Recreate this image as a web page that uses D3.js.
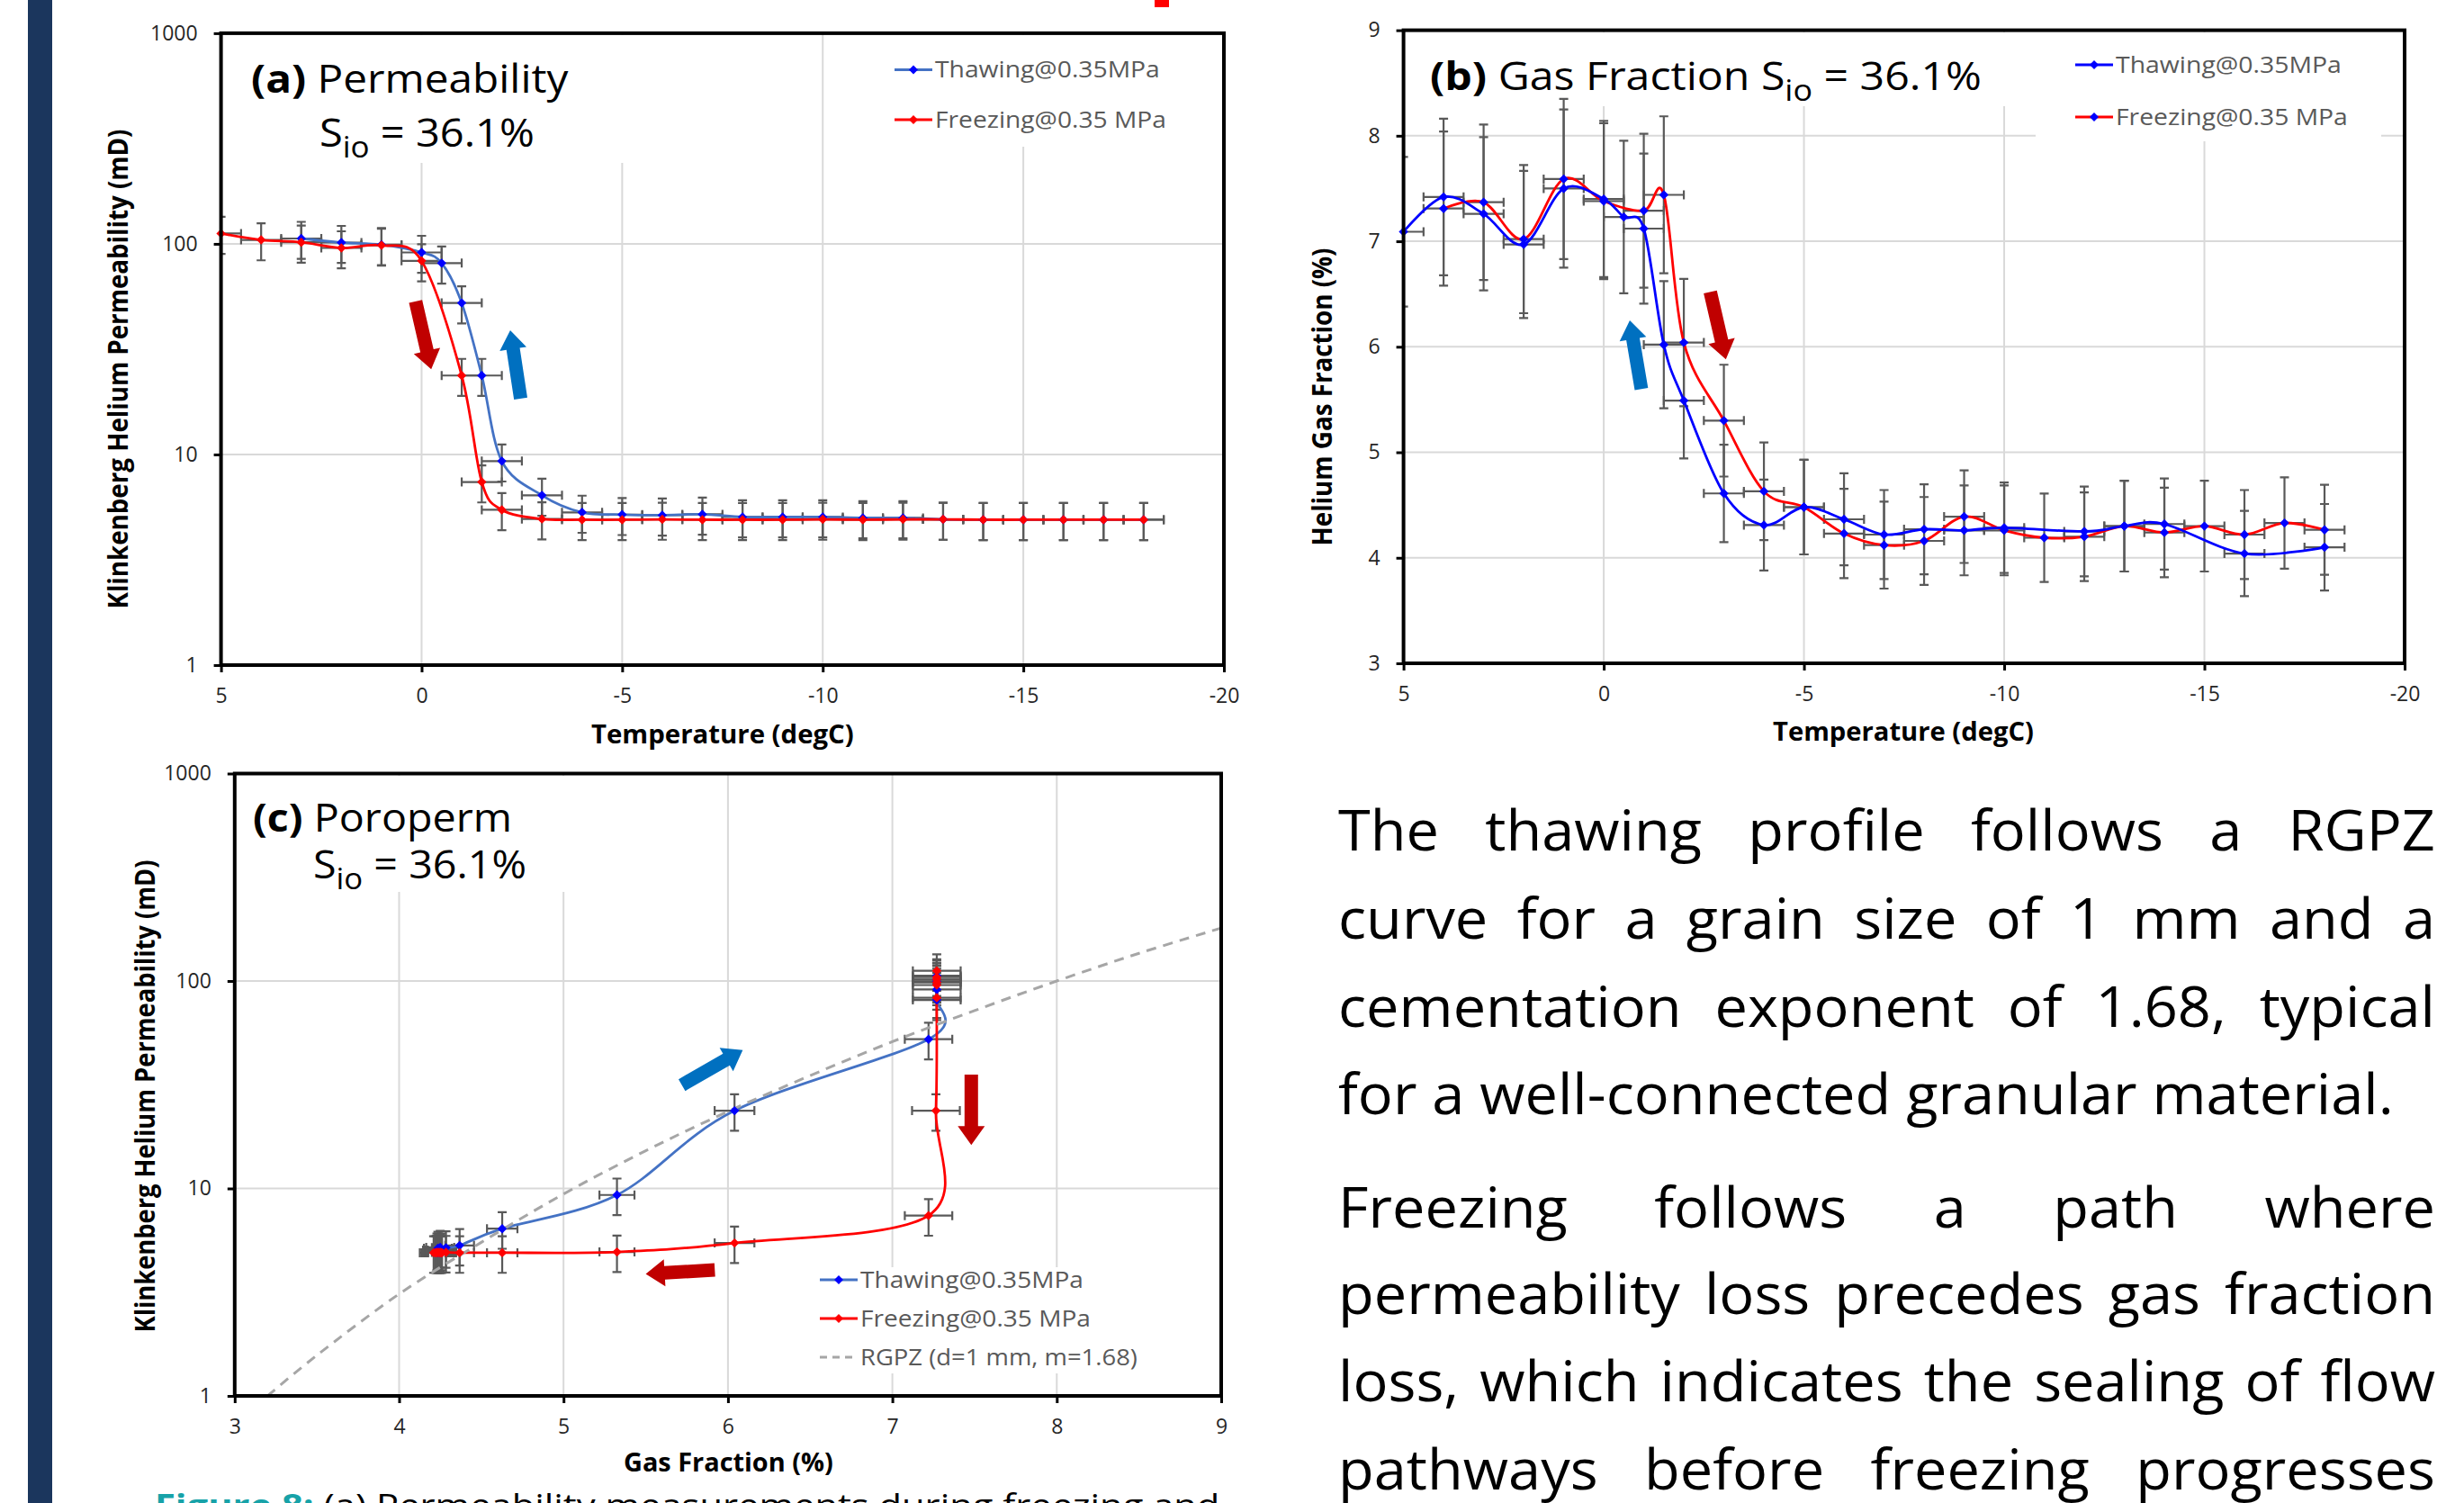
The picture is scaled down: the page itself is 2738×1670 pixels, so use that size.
<!DOCTYPE html>
<html><head><meta charset="utf-8">
<script src="https://cdn.jsdelivr.net/npm/d3@7"></script>
<style>body{margin:0;background:#fff;overflow:hidden}svg{display:block}</style>
</head><body>
<svg id="chart" width="2738" height="1670"></svg>
<script>
// ---------------- DATA ----------------
const tempTicks = [5, 0, -5, -10, -15, -20];
const logTicks = [1, 10, 100, 1000];
const gasTicks = [3, 4, 5, 6, 7, 8, 9];

// Panel (a): permeability vs temperature
const thawTempA = [3, 2, 1, 0, -0.5, -1, -1.5, -2, -3, -4, -5, -6, -7, -8, -9, -10, -11, -12, -13, -14, -15, -16, -17, -18];
const thawPermA = [106, 101.4, 99, 91, 81, 52.4, 23.7, 9.3, 6.4, 5.31, 5.18, 5.15, 5.2, 5.05, 5.05, 5.05, 5.0, 5.0, 4.92, 4.9, 4.9, 4.9, 4.9, 4.9];
const freezeTempA = [5, 4, 3, 2, 1, 0, -1, -1.5, -2, -3, -4, -5, -6, -7, -8, -9, -10, -11, -12, -13, -14, -15, -16, -17, -18];
const freezePermA = [112, 104.4, 101.7, 95.6, 98.4, 83, 23.7, 7.4, 5.46, 4.94, 4.9, 4.9, 4.92, 4.9, 4.9, 4.9, 4.92, 4.9, 4.92, 4.92, 4.9, 4.9, 4.9, 4.9, 4.9];

// Panel (b): gas fraction vs temperature
const thawTempB = [5, 4, 3, 2, 1, 0, -0.5, -1, -1.5, -2, -3, -4, -5, -6, -7, -8, -9, -10, -12, -13, -14, -16, -18];
const thawGasB = [7.09, 7.42, 7.26, 6.97, 7.50, 7.40, 7.23, 7.12, 6.02, 5.49, 4.61, 4.31, 4.48, 4.365, 4.22, 4.27, 4.26, 4.285, 4.25, 4.30, 4.32, 4.04, 4.10];
const freezeTempB = [4, 3, 2, 1, 0, -1, -1.5, -2, -3, -4, -5, -6, -7, -8, -9, -10, -11, -12, -13, -14, -15, -16, -17, -18];
const freezeGasB = [7.31, 7.37, 7.02, 7.59, 7.38, 7.29, 7.44, 6.04, 5.30, 4.63, 4.48, 4.23, 4.12, 4.16, 4.39, 4.26, 4.19, 4.20, 4.30, 4.24, 4.30, 4.22, 4.33, 4.265];

// Panel (c): poroperm (gas fraction, aligned with panel a points)
const thawGasC = [7.27, 7.27, 7.27, 7.27, 7.27, 7.22, 6.04, 5.325, 4.627, 4.368, 4.285, 4.236, 4.25, 4.24, 4.26, 4.23, 4.25, 4.24, 4.26, 4.25, 4.24, 4.23, 4.25, 4.24];
const freezeGasC = [7.27, 7.27, 7.27, 7.27, 7.27, 7.27, 7.265, 7.22, 6.04, 5.325, 4.627, 4.368, 4.285, 4.227, 4.25, 4.22, 4.24, 4.26, 4.23, 4.25, 4.21, 4.24, 4.26, 4.23, 4.25];
const rgpzGas = [3.2, 3.5, 4, 4.5, 5, 5.5, 6, 6.5, 7, 7.5, 8, 8.5, 9];
const rgpzPerm = [1.0, 1.57, 3.1, 5.5, 9.4, 15.2, 23.5, 35, 51, 72, 100, 136, 180];

// error bar sizes
const permRelErr = 0.2, tempErr = 0.5, gasRelErrB = 0.1, gasRelErrC = 0.02;

// annotation arrows (data coordinates)
const arrowsA = [{from: [0.15, 53.3], to: [-0.24, 25.4], color: "#C00000"}, {from: [-2.47, 18.4], to: [-2.21, 38.9], color: "#0070C0"}];
const arrowsB = [{from: [-2.66, 6.52], to: [-3.05, 5.88], color: "#C00000"}, {from: [-0.94, 5.6], to: [-0.65, 6.25], color: "#0070C0"}];
const arrowsC = [{from: [5.72, 31.5], to: [6.09, 46.5], color: "#0070C0"}, {from: [7.48, 35.4], to: [7.48, 16.2], color: "#C00000"}, {from: [5.92, 4.05], to: [5.5, 3.87], color: "#C00000"}];

const legendLabels = ["Thawing@0.35MPa", "Freezing@0.35 MPa", "RGPZ (d=1 mm, m=1.68)"];

const para1 = ["The thawing profile follows a RGPZ", "curve for a grain size of 1 mm and a", "cementation exponent of 1.68, typical", "for a well-connected granular material."];
const para2 = ["Freezing follows a path where", "permeability loss precedes gas fraction", "loss, which indicates the sealing of flow", "pathways before freezing progresses"];

// ---------------- HELPERS ----------------
const FONT = "'Open Sans','Noto Sans',sans-serif";
const svg = d3.select("#chart").attr("font-family", FONT);
svg.append("rect").attr("width", 2738).attr("height", 1670).attr("fill", "#fff");

function zip(a, b) { return a.map((v, i) => [v, b[i]]); }
function fitWidth(sel, x0, target) {
  const bb = sel.node().getBBox();
  const sx = target / bb.width;
  sel.attr("transform", `translate(${x0},0) scale(${sx},1) translate(${-x0},0)`);
}
const diamond = r => `M0,${-r}L${r},0L0,${r}L${-r},0Z`;
const plainFmt = d => String(d);

function makePanel(id, xs, ys, xGrid, yGrid) {
  const g = svg.append("g");
  const [x0, x1] = xs.range().slice().sort((a, b) => a - b);
  const [y0, y1] = ys.range().slice().sort((a, b) => a - b);
  g.append("clipPath").attr("id", id).append("rect").attr("x", x0).attr("y", y0).attr("width", x1 - x0).attr("height", y1 - y0);
  const grid = g.append("g").attr("stroke", "#D9D9D9").attr("stroke-width", 2);
  grid.selectAll(".gx").data(xGrid).join("line").attr("x1", d => xs(d)).attr("x2", d => xs(d)).attr("y1", y0).attr("y2", y1);
  grid.selectAll(".gy").data(yGrid).join("line").attr("y1", d => ys(d)).attr("y2", d => ys(d)).attr("x1", x0).attr("x2", x1);
  return {g, xs, ys, x0, x1, y0, y1, clip: `url(#${id})`};
}
function whiteBox(P, bx0, by0, bx1, by1) {
  P.g.append("rect").attr("x", bx0).attr("y", by0).attr("width", bx1 - bx0).attr("height", by1 - by0).attr("fill", "#fff");
}
function errorBars(P, pts, exFn, eyFn) {
  const g = P.g.append("g").attr("clip-path", P.clip).attr("stroke", "#595959").attr("stroke-width", 2.2).attr("fill", "none");
  const c = 5;
  pts.forEach(p => {
    const x = P.xs(p[0]), y = P.ys(p[1]);
    const ex = exFn(p), ey = eyFn(p);
    const ya = P.ys(ey[0]), yb = P.ys(ey[1]);
    const xa = P.xs(ex[0]), xb = P.xs(ex[1]);
    g.append("path").attr("d", `M${x},${ya}V${yb}M${x - c},${ya}H${x + c}M${x - c},${yb}H${x + c}`);
    g.append("path").attr("d", `M${xa},${y}H${xb}M${xa},${y - c}V${y + c}M${xb},${y - c}V${y + c}`);
  });
}
function seriesLine(P, pts, color, w, dash) {
  const line = d3.line().x(d => P.xs(d[0])).y(d => P.ys(d[1])).curve(d3.curveCatmullRom.alpha(0));
  const p = P.g.append("path").datum(pts).attr("clip-path", P.clip).attr("d", line).attr("fill", "none").attr("stroke", color).attr("stroke-width", w).attr("stroke-linejoin", "round");
  if (dash) p.attr("stroke-dasharray", dash);
}
function markers(P, pts, color) {
  P.g.append("g").selectAll("path").data(pts).join("path").attr("d", diamond(5.2))
    .attr("transform", d => `translate(${P.xs(d[0])},${P.ys(d[1])})`).attr("fill", color);
}
function frameAxes(P, xTicks, yTicks) {
  P.g.append("rect").attr("x", P.x0).attr("y", P.y0).attr("width", P.x1 - P.x0).attr("height", P.y1 - P.y0)
    .attr("fill", "none").attr("stroke", "#000").attr("stroke-width", 4);
  const ax = P.g.append("g").attr("transform", `translate(0,${P.y1})`)
    .call(d3.axisBottom(P.xs).tickValues(xTicks).tickSize(8).tickPadding(18).tickFormat(plainFmt));
  const ay = P.g.append("g").attr("transform", `translate(${P.x0},0)`)
    .call(d3.axisLeft(P.ys).tickValues(yTicks).tickSize(8).tickPadding(18).tickFormat(plainFmt));
  [ax, ay].forEach(a => {
    a.select(".domain").remove();
    a.selectAll("line").attr("stroke", "#000").attr("stroke-width", 3);
    a.selectAll("text").attr("font-family", FONT).attr("font-size", 23).attr("fill", "#262626");
  });
}
function arrow(P, a) {
  const [tx, ty] = [P.xs(a.from[0]), P.ys(a.from[1])];
  const [hx, hy] = [P.xs(a.to[0]), P.ys(a.to[1])];
  const L = Math.hypot(hx - tx, hy - ty), ux = (hx - tx) / L, uy = (hy - ty) / L, nx = -uy, ny = ux;
  const w = 7.5, hw = 15, hl = 21;
  const nkx = hx - ux * hl, nky = hy - uy * hl;
  const pts = [[tx + nx * w, ty + ny * w], [nkx + nx * w, nky + ny * w], [nkx + nx * hw, nky + ny * hw], [hx, hy],
    [nkx - nx * hw, nky - ny * hw], [nkx - nx * w, nky - ny * w], [tx - nx * w, ty - ny * w]];
  P.g.append("path").attr("d", "M" + pts.map(p => p.join(",")).join("L") + "Z").attr("fill", a.color);
}
function legend(P, x, y, label, lineColor, markColor, dash) {
  const g = P.g.append("g");
  const l = g.append("line").attr("x1", x).attr("x2", x + 42).attr("y1", y).attr("y2", y).attr("stroke", lineColor).attr("stroke-width", 3);
  if (dash) l.attr("stroke-dasharray", dash);
  else g.append("path").attr("d", diamond(5)).attr("transform", `translate(${x + 21},${y})`).attr("fill", markColor);
  const t = g.append("text").attr("x", x + 45).attr("y", y + 9).attr("font-size", 26).attr("fill", "#595959").text(label);
  return t;
}
function title(P, x, y, bold, rest, sub, after, width) {
  const t = P.g.append("text").attr("x", x).attr("y", y).attr("font-size", 43).attr("fill", "#000");
  if (bold) t.append("tspan").attr("font-weight", "bold").text(bold);
  t.append("tspan").text(rest);
  if (sub) {
    t.append("tspan").attr("font-size", 32).attr("dy", 12).text(sub);
    t.append("tspan").attr("dy", -12).text(after);
  }
  fitWidth(t, x, width);
}
function xTitle(P, text, x0, width, y) {
  const t = P.g.append("text").attr("x", x0).attr("y", y).attr("font-size", 28).attr("font-weight", "bold").attr("fill", "#000").text(text);
  fitWidth(t, x0, width);
}
function yTitle(P, text, bx, cy, len) {
  P.g.append("text").attr("transform", `translate(${bx},${cy}) rotate(-90)`).attr("text-anchor", "middle")
    .attr("font-size", 31).attr("font-weight", "bold").attr("fill", "#000")
    .attr("textLength", len).attr("lengthAdjust", "spacingAndGlyphs").text(text);
}

// ---------------- PAGE DECOR ----------------
svg.append("rect").attr("x", 31).attr("y", 0).attr("width", 27).attr("height", 1670).attr("fill", "#1B365D");
svg.append("rect").attr("x", 1283).attr("y", 0).attr("width", 16).attr("height", 8).attr("fill", "#FF0000");

// ---------------- PANEL A ----------------
{
  const xs = d3.scaleLinear().domain([5, -20]).range([245.6, 1360]);
  const ys = d3.scaleLog().domain([1, 1000]).range([739, 36.9]);
  const P = makePanel("clipA", xs, ys, [0, -5, -10, -15], [10, 100]);
  whiteBox(P, 248, 39, 700, 181);
  whiteBox(P, 982, 39, 1304, 163);
  const thaw = zip(thawTempA, thawPermA), freeze = zip(freezeTempA, freezePermA);
  const ex = p => [p[0] + tempErr, p[0] - tempErr], ey = p => [p[1] * (1 - permRelErr), p[1] * (1 + permRelErr)];
  errorBars(P, thaw, ex, ey);
  errorBars(P, freeze, ex, ey);
  seriesLine(P, thaw, "#4472C4", 2.8);
  seriesLine(P, freeze, "#FF0000", 2.8);
  markers(P, thaw, "#0000FF");
  markers(P, freeze, "#FF0000");
  frameAxes(P, tempTicks, logTicks);
  arrowsA.forEach(a => arrow(P, a));
  title(P, 279, 103, "(a)", " Permeability", null, null, 353);
  title(P, 355, 163, null, "S", "io", " = 36.1%", 239);
  fitWidth(legend(P, 994, 77.5, legendLabels[0], "#4472C4", "#0000FF"), 1039, 250);
  fitWidth(legend(P, 994, 133, legendLabels[1], "#FF0000", "#FF0000"), 1039, 257);
  xTitle(P, "Temperature (degC)", 657, 292, 826);
  yTitle(P, "Klinkenberg Helium Permeability (mD)", 142, 410, 533);
}

// ---------------- PANEL B ----------------
{
  const xs = d3.scaleLinear().domain([5, -20]).range([1559.6, 2672]);
  const ys = d3.scaleLinear().domain([3, 9]).range([737, 33.6]);
  const P = makePanel("clipB", xs, ys, [0, -5, -10, -15], [4, 5, 6, 7, 8]);
  whiteBox(P, 1562, 36, 2240, 118);
  whiteBox(P, 2262, 36, 2646, 157);
  const thaw = zip(thawTempB, thawGasB), freeze = zip(freezeTempB, freezeGasB);
  const ex = p => [p[0] + tempErr, p[0] - tempErr], ey = p => [p[1] * (1 - gasRelErrB), p[1] * (1 + gasRelErrB)];
  errorBars(P, freeze, ex, ey);
  errorBars(P, thaw, ex, ey);
  seriesLine(P, freeze, "#FF0000", 2.8);
  seriesLine(P, thaw, "#0000FF", 2.8);
  markers(P, freeze, "#0000FF");
  markers(P, thaw, "#0000FF");
  frameAxes(P, tempTicks, gasTicks);
  arrowsB.forEach(a => arrow(P, a));
  title(P, 1589, 100, "(b)", " Gas Fraction S", "io", " = 36.1%", 613);
  fitWidth(legend(P, 2306, 72, legendLabels[0], "#0000FF", "#0000FF"), 2351, 251);
  fitWidth(legend(P, 2306, 130, legendLabels[1], "#FF0000", "#0000FF"), 2351, 258);
  xTitle(P, "Temperature (degC)", 1970, 290, 823);
  yTitle(P, "Helium Gas Fraction (%)", 1480, 441, 331);
}

// ---------------- PANEL C ----------------
{
  const xs = d3.scaleLinear().domain([3, 9]).range([260.8, 1357]);
  const ys = d3.scaleLog().domain([1, 1000]).range([1551, 859.5]);
  const P = makePanel("clipC", xs, ys, [4, 5, 6, 7, 8], [10, 100]);
  whiteBox(P, 263, 862, 643, 991);
  whiteBox(P, 902, 1408, 1277, 1526);
  const thaw = zip(thawGasC, thawPermA), freeze = zip(freezeGasC, freezePermA);
  const ex = p => [p[0] * (1 - gasRelErrC), p[0] * (1 + gasRelErrC)], ey = p => [p[1] * (1 - permRelErr), p[1] * (1 + permRelErr)];
  errorBars(P, thaw, ex, ey);
  errorBars(P, freeze, ex, ey);
  seriesLine(P, thaw, "#4472C4", 2.8);
  seriesLine(P, freeze, "#FF0000", 2.8);
  seriesLine(P, zip(rgpzGas, rgpzPerm), "#A6A6A6", 3, "11,8");
  markers(P, thaw, "#0000FF");
  markers(P, freeze, "#FF0000");
  frameAxes(P, gasTicks, logTicks);
  arrowsC.forEach(a => arrow(P, a));
  title(P, 281, 924, "(c)", " Poroperm", null, null, 288);
  title(P, 348, 976, null, "S", "io", " = 36.1%", 237);
  fitWidth(legend(P, 911, 1422, legendLabels[0], "#4472C4", "#0000FF"), 956, 248);
  fitWidth(legend(P, 911, 1465, legendLabels[1], "#FF0000", "#FF0000"), 956, 256);
  fitWidth(legend(P, 911, 1508, legendLabels[2], "#A6A6A6", null, "8,6"), 956, 308);
  xTitle(P, "Gas Fraction (%)", 693, 233, 1635);
  yTitle(P, "Klinkenberg Helium Permeability (mD)", 172, 1218, 525);
}

// ---------------- RIGHT TEXT ----------------
{
  const left = 1487, right = 2706;
  const g = svg.append("g").attr("font-size", 62).attr("fill", "#000");
  const probe = g.append("text").text(para1[3]);
  const sx = 1173 / probe.node().getComputedTextLength();
  probe.remove();
  const lines = [
    ...para1.map((t, i) => ({t, just: i < 3})),
    ...para2.map(t => ({t, just: true}))
  ];
  const base = [945, 1043, 1141, 1238, 1364, 1460, 1557, 1655];
  lines.forEach((ln, i) => {
    const t = g.append("text").attr("x", 0).attr("y", base[i]).attr("transform", `translate(${left},0) scale(${sx},1)`).text(ln.t);
    if (ln.just) {
      const w = t.node().getComputedTextLength();
      const n = (ln.t.match(/ /g) || []).length;
      t.attr("word-spacing", ((right - left) / sx - w) / n);
    }
  });
}

// ---------------- CAPTION (cut off by the page edge, as in the source) ----------------
{
  const t = svg.append("text").attr("x", 172).attr("y", 1686).attr("font-size", 36);
  t.append("tspan").attr("font-weight", "bold").attr("fill", "#17A2A8").text("Figure 8:");
  t.append("tspan").attr("fill", "#000").text(" (a) Permeability measurements during freezing and");
  fitWidth(t, 172, 1184);
}
</script>
</body></html>
